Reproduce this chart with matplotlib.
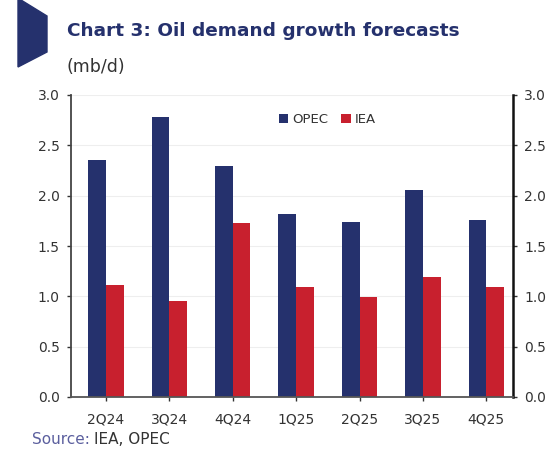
import numpy as np
import matplotlib.pyplot as plt
from matplotlib.patches import Polygon

# ---- data ----
quarters = ["2Q24", "3Q24", "4Q24", "1Q25", "2Q25", "3Q25", "4Q25"]
opec = [2.35, 2.78, 2.29, 1.82, 1.74, 2.06, 1.76]
iea = [1.11, 0.95, 1.73, 1.09, 0.99, 1.19, 1.09]

navy = "#25316d"
red = "#c8202e"
txt = "#333333"

plt.rcParams["font.family"] = ["DejaVu Sans"]

fig = plt.figure(figsize=(5.6, 4.63), dpi=100)
W, H = 560, 463

# ---- decorative shape top-left ----
shape = Polygon([(18 / W, 1 - 0 / H), (21 / W, 1 - 0 / H), (47 / W, 1 - 16 / H),
                 (47 / W, 1 - 52 / H), (18 / W, 1 - 67 / H)],
                closed=True, transform=fig.transFigure, color=navy, zorder=0)
fig.patches.append(shape)

# ---- titles ----
fig.text(67 / W, 1 - 31 / H, "Chart 3: Oil demand growth forecasts", color=navy,
         fontsize=13.3, fontweight="bold", va="center", ha="left")
fig.text(67 / W, 1 - 67 / H, "(mb/d)", color=txt, fontsize=12.5, va="center", ha="left")

# ---- axes ----
ax = fig.add_axes([71 / W, 1 - 397 / H, (513 - 71) / W, (397 - 95) / H])
x = np.arange(len(quarters))
w = 0.28
ax.bar(x - w / 2, opec, width=w, color=navy, label="OPEC", zorder=2)
ax.bar(x + w / 2, iea, width=w, color=red, label="IEA", zorder=2)

ax.set_xlim(-0.55, 6.42)
ax.set_ylim(0, 3.0)
ax.set_yticks(np.arange(0, 3.01, 0.5))
ax.set_yticklabels([f"{v:.1f}" for v in np.arange(0, 3.01, 0.5)])
ax.set_xticks(x)
ax.set_xticklabels(quarters)
ax.grid(axis="y", color="#eeeeee", linewidth=0.8, zorder=0)

ax.spines["top"].set_visible(False)
ax.spines["left"].set_color("#444444")
ax.spines["left"].set_linewidth(1.3)
ax.spines["bottom"].set_color("#555555")
ax.spines["bottom"].set_linewidth(1.3)
ax.spines["right"].set_color("#111111")
ax.spines["right"].set_linewidth(1.8)

ax.tick_params(axis="both", colors=txt, labelsize=10, length=3, width=1)
ax.tick_params(axis="y", right=True, labelright=True, pad=5)
ax.tick_params(axis="x", pad=8)

ax.legend(loc="upper center", bbox_to_anchor=(0.58, 0.98), ncol=2, frameon=False,
          fontsize=9.5, handlelength=0.7, handleheight=0.7, handletextpad=0.3,
          columnspacing=1.0, labelcolor=txt)

# ---- source ----
t = fig.text(32 / W, 1 - 440 / H, "Source:", color="#5b5f9e", fontsize=11,
             va="center", ha="left")
fig.canvas.draw()
bb = t.get_window_extent()
fig.text((bb.x1 + 4) / W, 1 - 440 / H, "IEA, OPEC", color=txt, fontsize=11,
         va="center", ha="left")

plt.savefig("out.png", dpi=100)
